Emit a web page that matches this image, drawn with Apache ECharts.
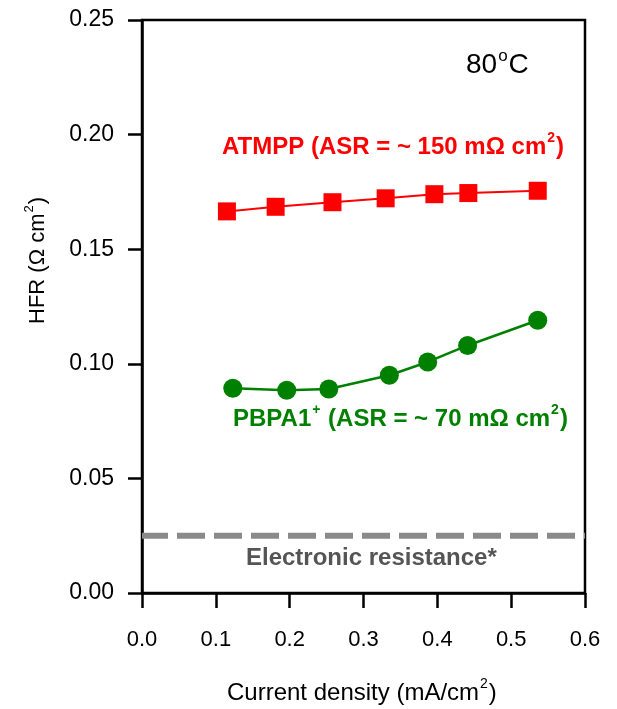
<!DOCTYPE html>
<html><head><meta charset="utf-8">
<script src="https://cdn.jsdelivr.net/npm/echarts@6/dist/echarts.min.js"></script>
<style>html,body{margin:0;padding:0;background:#fff}#c{width:617px;height:709px}</style>
</head><body><div id="c"></div>
<script>
const atmppX = [0.115, 0.181, 0.258, 0.330, 0.396, 0.442, 0.536];
const atmppY = [0.1665, 0.1685, 0.1705, 0.1722, 0.1740, 0.1745, 0.1755];
const pbpaX = [0.123, 0.196, 0.253, 0.335, 0.387, 0.441, 0.536];
const pbpaY = [0.0893, 0.0885, 0.0890, 0.0950, 0.1008, 0.1080, 0.1190];
const electronicY = 0.025;
const xTicks = [0.0, 0.1, 0.2, 0.3, 0.4, 0.5, 0.6];
const yTicks = [0.00, 0.05, 0.10, 0.15, 0.20, 0.25];

const FONT = 'Liberation Sans, Arial, sans-serif';
const chart = echarts.init(document.getElementById('c'));
function supStyle(color, bold, size, raise) {
  return {s: {fontSize: size, fontWeight: bold ? 'bold' : 'normal', verticalAlign: 'top', padding: [0, 1, raise, 1], fill: color, fontFamily: FONT}};
}
chart.setOption({
  animation: false,
  backgroundColor: '#fff',
  grid: {left: 142, right: 32, top: 20, bottom: 116, show: true, borderColor: '#000', borderWidth: 2.5},
  xAxis: {
    type: 'value', min: xTicks[0], max: xTicks[xTicks.length-1], interval: 0.1,
    splitLine: {show: false},
    axisLine: {show: true, onZero: false, lineStyle: {color: '#000', width: 2.5}},
    axisTick: {show: true, inside: false, length: 15, lineStyle: {color: '#000', width: 2.5}},
    axisLabel: {color: '#000', fontSize: 22, fontFamily: FONT, margin: 36, formatter: v => v.toFixed(1)}
  },
  yAxis: {
    type: 'value', min: yTicks[0], max: yTicks[yTicks.length-1], interval: 0.05,
    splitLine: {show: false},
    axisLine: {show: true, onZero: false, lineStyle: {color: '#000', width: 2.5}},
    axisTick: {show: true, inside: false, length: 14, lineStyle: {color: '#000', width: 2.5}},
    axisLabel: {color: '#000', fontSize: 23, fontFamily: FONT, margin: 28, formatter: v => v.toFixed(2)}
  },
  series: [
    {
      type: 'line', data: atmppX.map((x,i)=>[x, atmppY[i]]),
      symbol: 'rect', symbolSize: 18,
      itemStyle: {color: '#ff0000'}, lineStyle: {color: '#ff0000', width: 2},
      z: 3
    },
    {
      type: 'line', data: pbpaX.map((x,i)=>[x, pbpaY[i]]),
      symbol: 'circle', symbolSize: 19,
      itemStyle: {color: '#008000'}, lineStyle: {color: '#008000', width: 2.5},
      z: 3
    },
    {
      type: 'line', data: [[xTicks[0], electronicY], [xTicks[xTicks.length-1], electronicY]],
      symbol: 'none',
      lineStyle: {color: '#8a8a8a', width: 6, type: [28, 9], dashOffset: 2},
      z: 2
    }
  ],
  graphic: [
    {type: 'text', left: 466, top: 48, style: {
      text: '80{s|o}C', font: '28px ' + FONT, fill: '#000',
      rich: supStyle('#000', false, 17, 18)
    }},
    {type: 'text', left: 222, top: 131, style: {
      text: 'ATMPP (ASR = ~ 150 mΩ cm{s|2})', font: 'bold 24px ' + FONT, fill: '#ff0000',
      rich: supStyle('#ff0000', true, 14, 18)
    }},
    {type: 'text', left: 233, top: 403, style: {
      text: 'PBPA1{s|+} (ASR = ~ 70 mΩ cm{s|2})', font: 'bold 24px ' + FONT, fill: '#008000',
      rich: supStyle('#008000', true, 14, 18)
    }},
    {type: 'text', left: 246, top: 546, style: {
      text: 'Electronic resistance*', font: 'bold 24px ' + FONT, fill: '#555555'
    }},
    {type: 'text', left: 227, top: 677, style: {
      text: 'Current density (mA/cm{s|2})', font: '24px ' + FONT, fill: '#000',
      rich: supStyle('#000', false, 14, 18)
    }},
    {type: 'text', x: 23, y: 324, rotation: Math.PI/2, style: {
      text: 'HFR (Ω cm{s|2})', font: '22px ' + FONT, fill: '#000',
      rich: supStyle('#000', false, 13, 16)
    }}
  ]
});
</script></body></html>
